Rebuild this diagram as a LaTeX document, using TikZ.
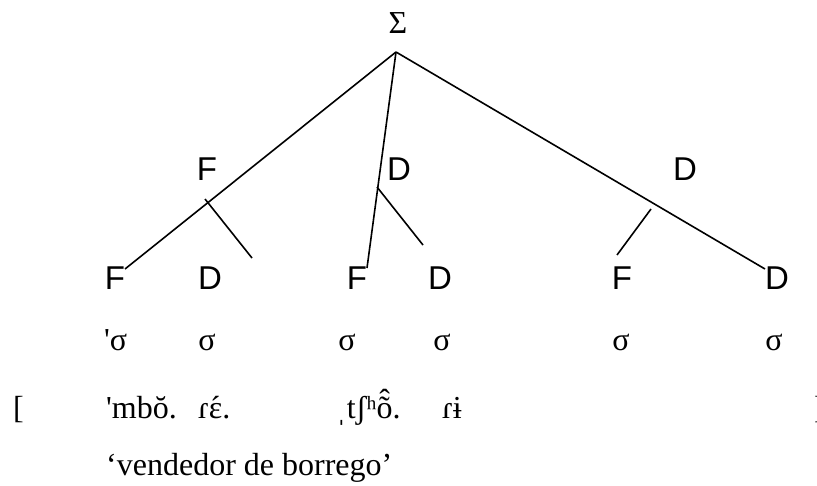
\documentclass[tikz,border=0pt]{standalone}
\usepackage{fontspec}
\setmainfont[Ligatures=TeXOff]{Liberation Serif}
\newfontfamily\labfont{Liberation Sans}
\begin{document}
\begin{tikzpicture}[x=1pt,y=-1pt,
  lab/.style={font=\labfont\fontsize{33}{33}\selectfont,inner sep=0pt,anchor=base},
  syl/.style={font=\fontsize{32}{32}\selectfont,inner sep=0pt,anchor=base},
  seg/.style={font=\fontsize{32}{32}\selectfont,inner sep=0pt,anchor=base west},
  branch/.style={line width=1.6pt}]
\useasboundingbox (0,0) rectangle (817,485);
% top
\node[syl] (root) at (398,33) {Σ};
% level 1
\node[lab] (f1) at (207,180) {F};
\node[lab] (d1) at (399,180) {D};
\node[lab] (d2) at (685,180) {D};
% level 2
\node[lab] (fa) at (115,289) {F};
\node[lab] (da) at (210,289) {D};
\node[lab] (fb) at (357,289) {F};
\node[lab] (db) at (440,289) {D};
\node[lab] (fc) at (622,289) {F};
\node[lab] (dc) at (777,289) {D};
% syllables
\node[seg] (s1) at (104,350) {'σ};
\node[syl] (s2) at (207,350) {σ};
\node[syl] (s3) at (347,350) {σ};
\node[syl] (s4) at (442,350) {σ};
\node[syl] (s5) at (621,350) {σ};
\node[syl] (s6) at (774,350) {σ};
% transcription
\node[seg] (lb) at (13,418) {[};
\node[seg] (t1) at (106,418) {'mbŏ.};
\node[seg] (t2) at (198,418) {ɾ\accent"00B4 ɛ.};
\node[seg] (t3) at (336,418) {ˌtʃʰ\accent"02C6 õ.};
\node[seg] (t4) at (442,418) {ɾɨ};
\node[seg] (rb) at (814,418) {]};
% gloss
\node[seg] (gl) at (106,475) {‘vendedor de borrego’};
% tree lines
\coordinate (apex) at (396,52);
\coordinate (fend) at (125,269);
\coordinate (mend) at (367,268);
\coordinate (rend) at (765,269);
\coordinate (b1s) at (205,199);
\coordinate (b1e) at (252,258);
\coordinate (b2s) at (377,187);
\coordinate (b2e) at (423,245);
\coordinate (b3s) at (651,209);
\coordinate (b3e) at (617,255);
\draw[branch] (apex) -- (fend);
\draw[branch] (apex) -- (mend);
\draw[branch] (apex) -- (rend);
\draw[branch] (b1s) -- (b1e);
\draw[branch] (b2s) -- (b2e);
\draw[branch] (b3s) -- (b3e);
\end{tikzpicture}
\end{document}
